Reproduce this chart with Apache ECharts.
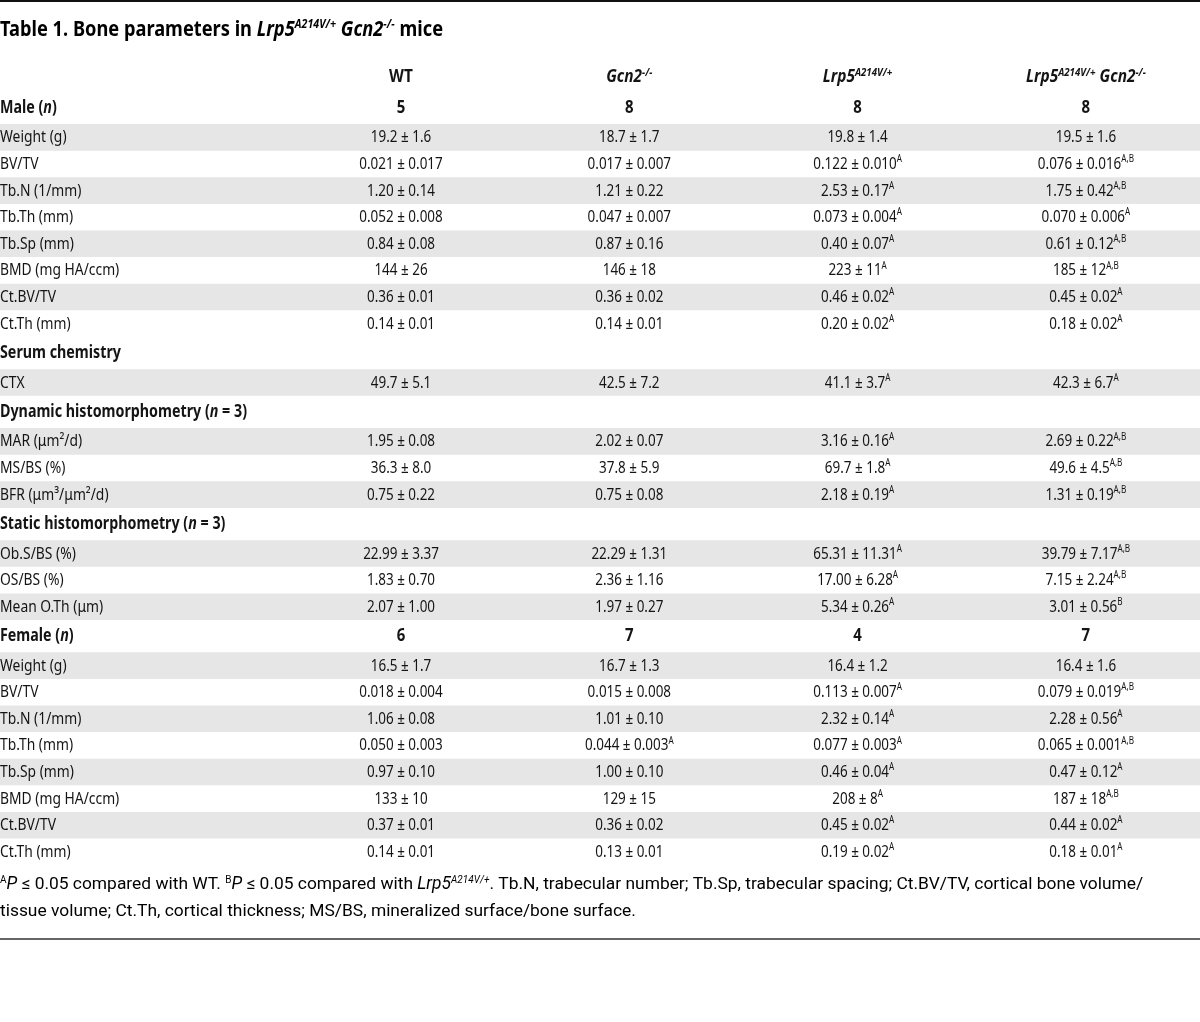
<!DOCTYPE html>
<html>
<head>
<meta charset="utf-8">
<script src="https://cdn.jsdelivr.net/npm/echarts@6/dist/echarts.min.js"></script>
<style>
html,body{margin:0;padding:0;background:#fff;}
#chart{width:1200px;height:1022px;}
</style>
</head>
<body>
<div id="chart"></div>
<script>
// ---------------- DATA ----------------
const columnHeaders = [
  '{hb|WT}',
  '{hbi|Gcn2}{hbisup|−/−}',
  '{hbi|Lrp5}{hbisup|A214V/+}',
  '{hbi|Lrp5}{hbisup|A214V/+}{hb| }{hbi|Gcn2}{hbisup|−/−}'
];

const maleN = ['5', '8', '8', '8'];
const femaleN = ['6', '7', '4', '7'];

const boneLabels = ['Weight (g)', 'BV/TV', 'Tb.N (1/mm)', 'Tb.Th (mm)', 'Tb.Sp (mm)', 'BMD (mg HA/ccm)', 'Ct.BV/TV', 'Ct.Th (mm)'];

const maleValues = [
  ['19.2 ± 1.6', '18.7 ± 1.7', '19.8 ± 1.4', '19.5 ± 1.6'],
  ['0.021 ± 0.017', '0.017 ± 0.007', '0.122 ± 0.010', '0.076 ± 0.016'],
  ['1.20 ± 0.14', '1.21 ± 0.22', '2.53 ± 0.17', '1.75 ± 0.42'],
  ['0.052 ± 0.008', '0.047 ± 0.007', '0.073 ± 0.004', '0.070 ± 0.006'],
  ['0.84 ± 0.08', '0.87 ± 0.16', '0.40 ± 0.07', '0.61 ± 0.12'],
  ['144 ± 26', '146 ± 18', '223 ± 11', '185 ± 12'],
  ['0.36 ± 0.01', '0.36 ± 0.02', '0.46 ± 0.02', '0.45 ± 0.02'],
  ['0.14 ± 0.01', '0.14 ± 0.01', '0.20 ± 0.02', '0.18 ± 0.02']
];
const maleSig = [
  ['', '', '', ''],
  ['', '', 'A', 'A,B'],
  ['', '', 'A', 'A,B'],
  ['', '', 'A', 'A'],
  ['', '', 'A', 'A,B'],
  ['', '', 'A', 'A,B'],
  ['', '', 'A', 'A'],
  ['', '', 'A', 'A']
];

const serumLabels = ['CTX'];
const serumValues = [['49.7 ± 5.1', '42.5 ± 7.2', '41.1 ± 3.7', '42.3 ± 6.7']];
const serumSig = [['', '', 'A', 'A']];

const dynamicLabels = ['MAR (μm²/d)', 'MS/BS (%)', 'BFR (μm³/μm²/d)'];
const dynamicValues = [
  ['1.95 ± 0.08', '2.02 ± 0.07', '3.16 ± 0.16', '2.69 ± 0.22'],
  ['36.3 ± 8.0', '37.8 ± 5.9', '69.7 ± 1.8', '49.6 ± 4.5'],
  ['0.75 ± 0.22', '0.75 ± 0.08', '2.18 ± 0.19', '1.31 ± 0.19']
];
const dynamicSig = [
  ['', '', 'A', 'A,B'],
  ['', '', 'A', 'A,B'],
  ['', '', 'A', 'A,B']
];

const staticLabels = ['Ob.S/BS (%)', 'OS/BS (%)', 'Mean O.Th (μm)'];
const staticValues = [
  ['22.99 ± 3.37', '22.29 ± 1.31', '65.31 ± 11.31', '39.79 ± 7.17'],
  ['1.83 ± 0.70', '2.36 ± 1.16', '17.00 ± 6.28', '7.15 ± 2.24'],
  ['2.07 ± 1.00', '1.97 ± 0.27', '5.34 ± 0.26', '3.01 ± 0.56']
];
const staticSig = [
  ['', '', 'A', 'A,B'],
  ['', '', 'A', 'A,B'],
  ['', '', 'A', 'B']
];

const femaleValues = [
  ['16.5 ± 1.7', '16.7 ± 1.3', '16.4 ± 1.2', '16.4 ± 1.6'],
  ['0.018 ± 0.004', '0.015 ± 0.008', '0.113 ± 0.007', '0.079 ± 0.019'],
  ['1.06 ± 0.08', '1.01 ± 0.10', '2.32 ± 0.14', '2.28 ± 0.56'],
  ['0.050 ± 0.003', '0.044 ± 0.003', '0.077 ± 0.003', '0.065 ± 0.001'],
  ['0.97 ± 0.10', '1.00 ± 0.10', '0.46 ± 0.04', '0.47 ± 0.12'],
  ['133 ± 10', '129 ± 15', '208 ± 8', '187 ± 18'],
  ['0.37 ± 0.01', '0.36 ± 0.02', '0.45 ± 0.02', '0.44 ± 0.02'],
  ['0.14 ± 0.01', '0.13 ± 0.01', '0.19 ± 0.02', '0.18 ± 0.01']
];
const femaleSig = [
  ['', '', '', ''],
  ['', '', 'A', 'A,B'],
  ['', '', 'A', 'A'],
  ['', 'A', 'A', 'A,B'],
  ['', '', 'A', 'A'],
  ['', '', 'A', 'A,B'],
  ['', '', 'A', 'A'],
  ['', '', 'A', 'A']
];

const sections = [
  { title: '{gb|Male (}{gbi|n}{gb|)}', counts: maleN, labels: boneLabels, values: maleValues, sig: maleSig },
  { title: '{gb|Serum chemistry}', counts: null, labels: serumLabels, values: serumValues, sig: serumSig },
  { title: '{gb|Dynamic histomorphometry (}{gbi|n}{gb| = 3)}', counts: null, labels: dynamicLabels, values: dynamicValues, sig: dynamicSig },
  { title: '{gb|Static histomorphometry (}{gbi|n}{gb| = 3)}', counts: null, labels: staticLabels, values: staticValues, sig: staticSig },
  { title: '{gb|Female (}{gbi|n}{gb|)}', counts: femaleN, labels: boneLabels, values: femaleValues, sig: femaleSig }
];

// ---------------- LAYOUT / STYLE ----------------
const W = 1200, H = 1022;
const FONT = "'Noto Sans', 'Liberation Sans', sans-serif";
const NOTE_FONT = "Roboto, 'Liberation Sans', sans-serif";
const TEXT_COLOR = '#141414';
const SHADE = '#e6e6e6';
const TABLE_TOP = 59.5, HEAD_H = 32.3, GROUP_H = 32.3, ROW_H = 26.6;
const FIRST_COL = 401, COL_STEP = 228.3;
const SX_LABEL = 0.84, SX_VALUE = 0.815, SX_HEAD = 0.88; // horizontal condensing of the table font
const colX = i => FIRST_COL + COL_STEP * i;

const FS = 16.5;
const rich = {
  t: { fontFamily: FONT, fontSize: FS, color: TEXT_COLOR, lineHeight: 20 },
  sup: { fontFamily: FONT, fontSize: 10, color: TEXT_COLOR, lineHeight: 13, verticalAlign: 'top' },
  hb: { fontFamily: FONT, fontSize: 17.5, fontWeight: 'bold', color: TEXT_COLOR, lineHeight: 20 },
  hbi: { fontFamily: FONT, fontSize: 17.5, fontWeight: 'bold', fontStyle: 'italic', color: TEXT_COLOR, lineHeight: 20 },
  hbisup: { fontFamily: FONT, fontSize: 11, fontWeight: 'bold', fontStyle: 'italic', color: TEXT_COLOR, lineHeight: 13, verticalAlign: 'top' },
  gb: { fontFamily: FONT, fontSize: 17, fontWeight: 'bold', color: TEXT_COLOR, lineHeight: 20 },
  gbi: { fontFamily: FONT, fontSize: 17, fontWeight: 'bold', fontStyle: 'italic', color: TEXT_COLOR, lineHeight: 20 }
};

// Build rows
const cells = [];   // {x, y, text, align, sx}
const shades = [];  // [top, bottom]
let y = TABLE_TOP;
columnHeaders.forEach((h, i) => cells.push({ x: colX(i), y: y + HEAD_H / 2 + 1.5, text: h, align: 'center', sx: SX_HEAD }));
y += HEAD_H;
sections.forEach(sec => {
  cells.push({ x: 0, y: y + GROUP_H / 2 + 0.5, text: sec.title, align: 'left', sx: SX_LABEL });
  if (sec.counts) sec.counts.forEach((c, i) => cells.push({ x: colX(i), y: y + GROUP_H / 2 + 0.5, text: '{gb|' + c + '}', align: 'center', sx: SX_HEAD }));
  y += GROUP_H;
  sec.labels.forEach((lab, r) => {
    if (r % 2 === 0) shades.push([y, y + ROW_H]);
    const cy = y + ROW_H / 2 + 0.3;
    cells.push({ x: 0, y: cy, text: '{t|' + lab + '}', align: 'left', sx: SX_LABEL });
    sec.values[r].forEach((v, i) => {
      const s = sec.sig[r][i];
      cells.push({ x: colX(i), y: cy, text: '{t|' + v + '}' + (s ? '{sup|' + s + '}' : ''), align: 'center', sx: SX_VALUE });
    });
    y += ROW_H;
  });
});

const chart = echarts.init(document.getElementById('chart'), null, { renderer: 'canvas' });

const titleRich = {
  b: { fontFamily: FONT, fontSize: 20.5, fontWeight: 'bold', color: TEXT_COLOR, lineHeight: 24 },
  bi: { fontFamily: FONT, fontSize: 20.5, fontWeight: 'bold', fontStyle: 'italic', color: TEXT_COLOR, lineHeight: 24 },
  bisup: { fontFamily: FONT, fontSize: 12, fontWeight: 'bold', fontStyle: 'italic', color: TEXT_COLOR, lineHeight: 15, verticalAlign: 'top' }
};

const noteRich = {
  n: { fontFamily: NOTE_FONT, fontSize: 17.4, color: TEXT_COLOR, lineHeight: 20 },
  i: { fontFamily: NOTE_FONT, fontSize: 17.4, fontStyle: 'italic', color: TEXT_COLOR, lineHeight: 20 },
  sup: { fontFamily: NOTE_FONT, fontSize: 10, color: TEXT_COLOR, lineHeight: 12, verticalAlign: 'top' },
  isup: { fontFamily: NOTE_FONT, fontSize: 10, fontStyle: 'italic', color: TEXT_COLOR, lineHeight: 12, verticalAlign: 'top' }
};

const option = {
  animation: false,
  backgroundColor: '#fff',
  grid: { left: 0, right: 0, top: 0, bottom: 0, containLabel: false },
  xAxis: { type: 'value', min: 0, max: W, show: false },
  yAxis: { type: 'value', min: 0, max: H, inverse: true, show: false },
  graphic: [
    { type: 'rect', shape: { x: 0, y: 0, width: W, height: 2 }, style: { fill: '#111' }, silent: true },
    { type: 'rect', shape: { x: 0, y: 938, width: W, height: 2 }, style: { fill: '#666' }, silent: true },
    {
      type: 'text', x: 0, y: 30.5, scaleX: 0.89, silent: true,
      style: {
        text: '{b|Table 1. Bone parameters in }{bi|Lrp5}{bisup|A214V/+}{b| }{bi|Gcn2}{bisup|−/−}{b| mice}',
        rich: titleRich, verticalAlign: 'middle', align: 'left'
      }
    },
    {
      type: 'text', x: 0, y: 885, silent: true,
      style: {
        text: '{sup|A}{i|P}{n| ≤ 0.05 compared with WT. }{sup|B}{i|P}{n| ≤ 0.05 compared with }{i|Lrp5}{isup|A214V/+}{n|. Tb.N, trabecular number; Tb.Sp, trabecular spacing; Ct.BV/TV, cortical bone volume/}',
        rich: noteRich, verticalAlign: 'middle', align: 'left'
      }
    },
    {
      type: 'text', x: 0, y: 912, silent: true,
      style: {
        text: '{n|tissue volume; Ct.Th, cortical thickness; MS/BS, mineralized surface/bone surface.}',
        rich: noteRich, verticalAlign: 'middle', align: 'left'
      }
    }
  ],
  series: [
    {
      type: 'custom',
      silent: true,
      clip: false,
      data: shades,
      renderItem: (params, api) => {
        const p1 = api.coord([0, api.value(0)]);
        const p2 = api.coord([W, api.value(1)]);
        return { type: 'rect', shape: { x: p1[0], y: p1[1], width: p2[0] - p1[0], height: p2[1] - p1[1] }, style: { fill: SHADE } };
      },
      z: 1
    },
    {
      type: 'custom',
      silent: true,
      clip: false,
      data: cells.map(c => [c.x, c.y]),
      renderItem: (params, api) => {
        const c = cells[params.dataIndex];
        const p = api.coord([api.value(0), api.value(1)]);
        return {
          type: 'text',
          x: p[0], y: p[1], scaleX: c.sx,
          style: { text: c.text, rich: rich, align: c.align, verticalAlign: 'middle', fontFamily: FONT, fontSize: FS, fill: TEXT_COLOR }
        };
      },
      z: 2
    }
  ]
};
chart.setOption(option);
</script>
</body>
</html>
